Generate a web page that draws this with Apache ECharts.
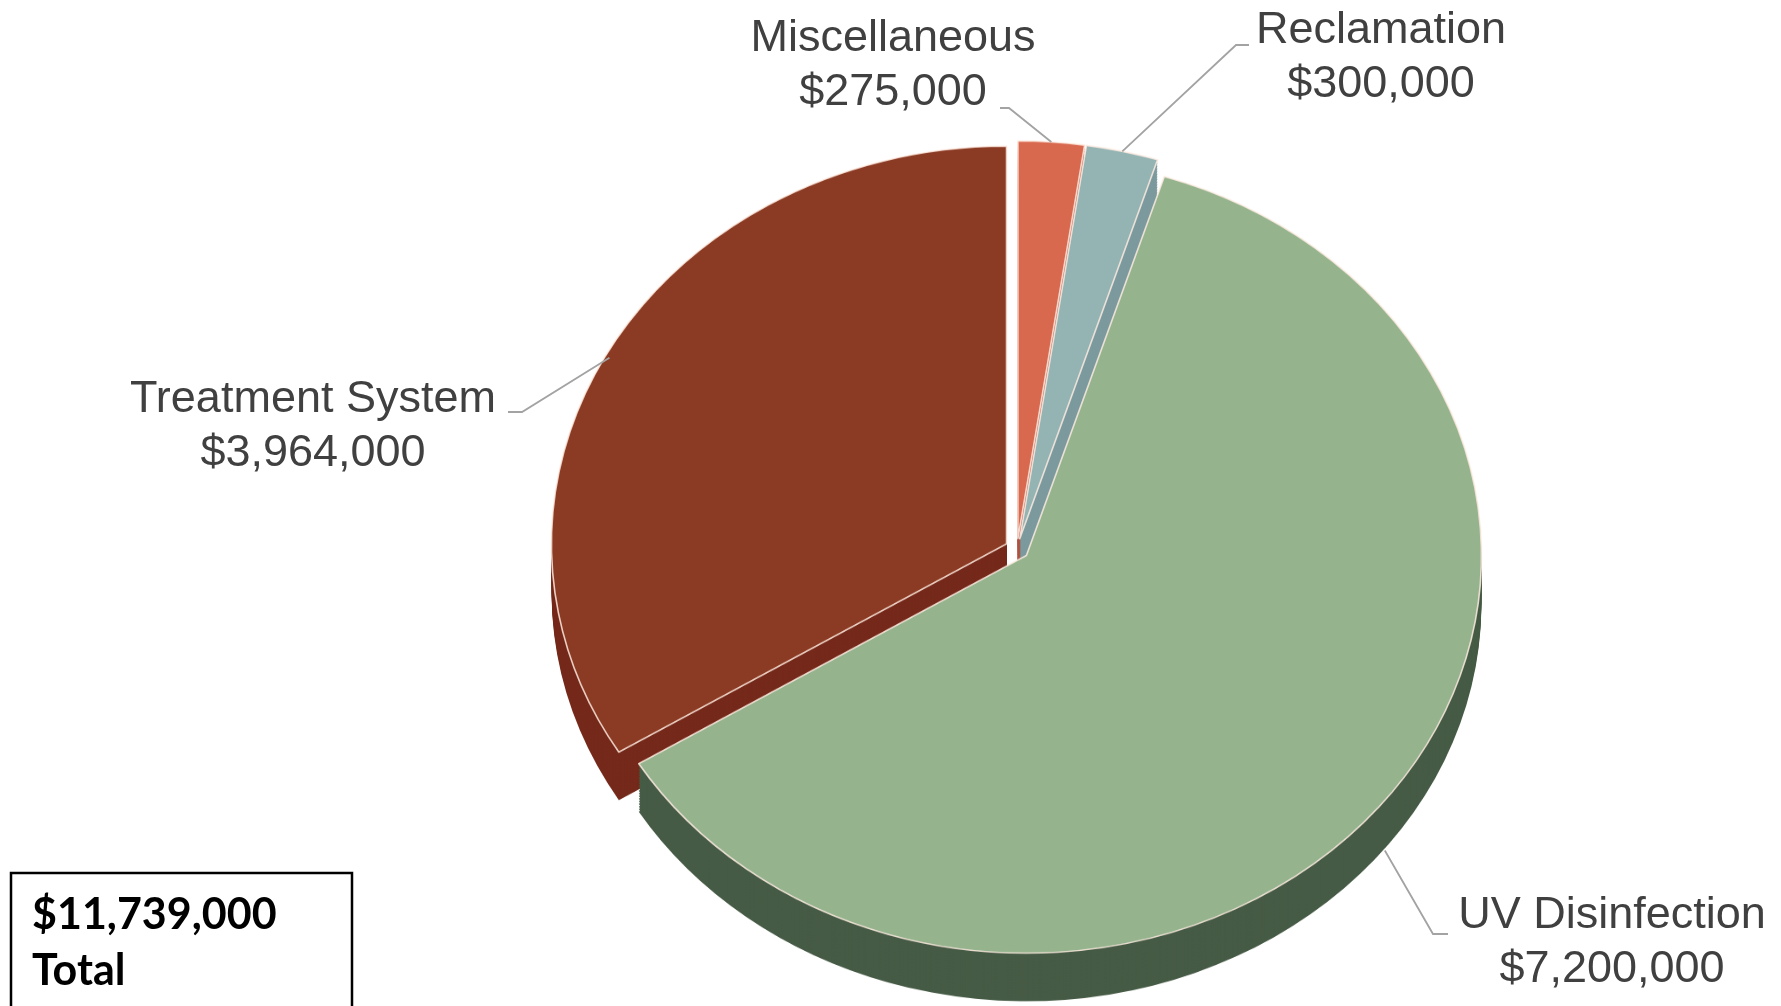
<!DOCTYPE html>
<html>
<head>
<meta charset="utf-8">
<script src="https://cdn.jsdelivr.net/npm/echarts@6/dist/echarts.min.js"></script>
<style>
  html, body { margin: 0; padding: 0; background: #fff; overflow: hidden; }
  #wrap { position: relative; width: 1781px; height: 1006px; overflow: hidden; }
  /* pie is drawn round, then tilted by squashing it vertically */
  #pie { position: absolute; left: 0; top: 0; width: 1781px; height: 1150px;
         transform: scaleY(0.874); transform-origin: 0 0; }
  #labels { position: absolute; left: 0; top: 0; width: 1781px; height: 1006px; }
</style>
</head>
<body>
<div id="wrap">
  <div id="pie"></div>
  <div id="labels"></div>
</div>
<script>
// cost breakdown, clockwise from 12 o'clock
var categories = ['Miscellaneous', 'Reclamation', 'UV Disinfection', 'Treatment System'];
var costs = [275000, 300000, 7200000, 3964000];
var totalLines = ['$11,739,000', 'Total'];

// face + side colours per slice
var topColors = ['#D8694F', '#93B4B3', '#95B48E', '#8B3A23'];
var sideColors = ['#B05340', '#7C9A9E', '#465B45', '#75291A'];

// where each label block sits and where its leader line ends
var labelSpots = [
    { x: 893, y: 66, endX: 1000, endY: 108, elbow: 9, drop: 0 },
    { x: 1381, y: 58, endX: 1249, endY: 45, elbow: -13, drop: 0 },
    { x: 1612, y: 943, endX: 1448, endY: 934, elbow: -15, drop: 50 },
    { x: 313, y: 427, endX: 508, endY: 412, elbow: 14, drop: 8 }
];

var tilt = 0.874;
var cx = 1017;
var cy = 549;          // on screen
var pieRadius = 455;
var depth = 55;
var explode = 12;

function money(v) {
    return '$' + v.toLocaleString('en-US');
}

function sliceData(colors, selected) {
    return categories.map(function (name, i) {
        return {
            name: name,
            value: costs[i],
            selected: selected,
            itemStyle: { color: colors[i] }
        };
    });
}

// ---- pie body ----
let pieChart = echarts.init(document.getElementById('pie'));
let cyPie = cy / tilt;
let series = [];

//侧面：同一组数据向下错开叠几层，做出厚度
for (let d = depth; d > 0; d -= 3) {
    series.push({
        type: 'pie',
        silent: true,
        z: 1,
        center: [cx, cyPie + d],
        radius: pieRadius,
        startAngle: 90,
        selectedMode: 'multiple',
        selectedOffset: explode,
        label: { show: false },
        labelLine: { show: false },
        data: sliceData(sideColors, true)
    });
}

// top face (exploded)
series.push({
    type: 'pie',
    silent: true,
    z: 2,
    center: [cx, cyPie],
    radius: pieRadius,
    startAngle: 90,
    selectedMode: 'multiple',
    selectedOffset: explode,
    itemStyle: {
        borderColor: 'rgba(255,236,226,0.85)',
        borderWidth: 1.6
    },
    label: { show: false },
    labelLine: { show: false },
    data: sliceData(topColors, true)
});

pieChart.setOption({
    animation: false,
    backgroundColor: '#fff',
    series: series
});

// ---- labels + total box (not squashed) ----
let labelChart = echarts.init(document.getElementById('labels'));
let clear = categories.map(function () { return 'rgba(0,0,0,0)'; });

labelChart.setOption({
    animation: false,
    backgroundColor: 'transparent',
    series: [{
        type: 'pie',
        silent: true,
        center: [cx, cy],
        radius: pieRadius,
        startAngle: 90,
        itemStyle: { color: 'rgba(0,0,0,0)' },
        label: {
            show: true,
            position: 'outside',
            formatter: function (p) {
                return p.name + '\n' + money(p.value);
            },
            fontFamily: 'Liberation Sans',
            fontSize: 45,
            lineHeight: 54,
            color: '#404040',
            align: 'center'
        },
        labelLine: {
            show: true,
            length: 20,
            length2: 20,
            lineStyle: { color: '#A3A3A3', width: 1.8 }
        },
        labelLayout: function (params) {
            let s = labelSpots[params.dataIndex];
            let p0 = params.labelLinePoints[0];
            // move the start to the exploded, tilted edge
            let k = (pieRadius + explode) / pieRadius;
            let start = [
                cx + (p0[0] - cx) * k,
                cy + (p0[1] - cy) * k * tilt + s.drop
            ];
            return {
                x: s.x,
                y: s.y,
                align: 'center',
                verticalAlign: 'middle',
                labelLinePoints: [start, [s.endX + s.elbow, s.endY], [s.endX, s.endY]]
            };
        },
        data: sliceData(clear, false)
    }],
    graphic: [
        {
            type: 'rect',
            shape: { x: 11, y: 873, width: 341, height: 200 },
            style: { fill: 'none', stroke: '#000', lineWidth: 2.5 },
            z: 10
        },
        {
            type: 'text',
            x: 32,
            y: 887,
            z: 10,
            style: {
                text: totalLines.join('\n'),
                font: 'bold 43px Lato',
                lineHeight: 56,
                fill: '#000',
                verticalAlign: 'top'
            }
        }
    ]
});
</script>
</body>
</html>
